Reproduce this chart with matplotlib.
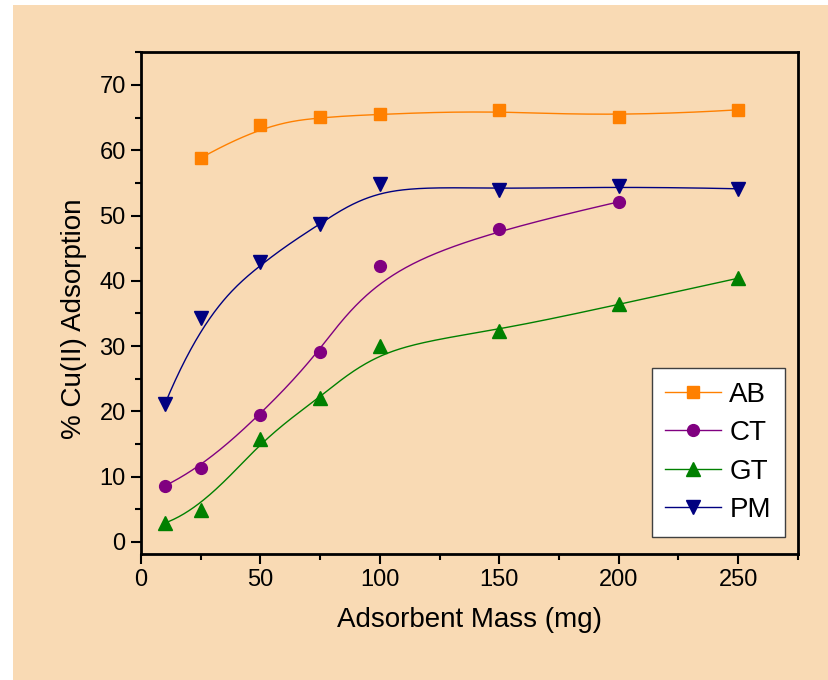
import numpy as np
import matplotlib.pyplot as plt
from matplotlib.patches import Rectangle
from matplotlib.ticker import MultipleLocator

plt.rcParams['font.family'] = ['Liberation Sans', 'DejaVu Sans']

# masa de adsorbente (mg) y % de adsorcion de Cu(II)
x_ab = [25, 50, 75, 100, 150, 200, 250]
y_ab = [58.8, 63.9, 65.1, 65.5, 66.2, 65.1, 66.2]

x_ct = [10, 25, 50, 75, 100, 150, 200]
y_ct = [8.6, 11.3, 19.4, 29.1, 42.3, 47.9, 52.1]

x_gt = [10, 25, 50, 75, 100, 150, 200, 250]
y_gt = [2.9, 4.9, 15.8, 22.0, 30.0, 32.3, 36.4, 40.4]

x_pm = [10, 25, 50, 75, 100, 150, 200, 250]
y_pm = [21.1, 34.3, 42.9, 48.7, 54.8, 53.9, 54.5, 54.1]

fondo = '#F9DAB4'


def bspline(x, y, n=300, k=3):
    # B-spline cubica con los datos como puntos de control
    P = np.column_stack([x, y])
    m = len(P)
    knots = np.concatenate([[0.0] * k, np.linspace(0, 1, m - k + 1), [1.0] * k])
    t = np.linspace(0, 1, n)
    N = np.zeros((n, len(knots) - 1))
    for i in range(len(knots) - 1):
        N[:, i] = (knots[i] <= t) & (t < knots[i + 1])
    N[-1, m - 1] = 1.0
    for d in range(1, k + 1):
        Nn = np.zeros((n, len(knots) - 1 - d))
        for i in range(len(knots) - 1 - d):
            a = knots[i + d] - knots[i]
            b = knots[i + d + 1] - knots[i + 1]
            izq = (t - knots[i]) / a * N[:, i] if a > 0 else 0
            der = (knots[i + d + 1] - t) / b * N[:, i + 1] if b > 0 else 0
            Nn[:, i] = izq + der
        N = Nn
    C = N[:, :m] @ P
    return C[:, 0], C[:, 1]


fig = plt.figure(figsize=(8.29, 6.8), dpi=100, facecolor='white')
fig.add_artist(Rectangle((13 / 829, 0), 1, 1 - 5 / 680, transform=fig.transFigure,
                         facecolor=fondo, edgecolor='none', zorder=-10))
ax = fig.add_axes([0.170, 0.1853, 0.7925, 0.7382])
ax.set_facecolor(fondo)

series = [
    ('AB', x_ab, y_ab, '#FF8000', 's', 8),
    ('CT', x_ct, y_ct, '#800080', 'o', 8.5),
    ('GT', x_gt, y_gt, '#008000', '^', 9.5),
    ('PM', x_pm, y_pm, '#000080', 'v', 9.5),
]
for nombre, xs, ys, c, mk, ms in series:
    sx, sy = bspline(xs, ys)
    ax.plot(sx, sy, '-', color=c, lw=1.0, zorder=2)
    ax.plot(xs, ys, linestyle='none', marker=mk, ms=ms, color=c, mec=c, zorder=3)
    ax.plot([], [], '-', color=c, lw=1.0, marker=mk, ms=ms, mec=c, label=nombre)

ax.set_xlim(0, 275)
ax.set_ylim(-1.84, 75.05)
ax.xaxis.set_major_locator(MultipleLocator(50))
ax.xaxis.set_minor_locator(MultipleLocator(25))
ax.yaxis.set_major_locator(MultipleLocator(10))
ax.yaxis.set_minor_locator(MultipleLocator(5))
ax.tick_params(which='major', direction='out', length=7, width=1.5, labelsize=17, pad=4)
ax.tick_params(which='minor', direction='out', length=4, width=1.5)
for s in ax.spines.values():
    s.set_linewidth(2)

ax.set_xlabel('Adsorbent Mass (mg)', fontsize=20, labelpad=11)
ax.set_ylabel('% Cu(II) Adsorption', fontsize=20)
ax.yaxis.set_label_coords(-0.082, 0.468)

leg = ax.legend(loc='lower right', bbox_to_anchor=(0.980, 0.034), borderaxespad=0,
                fontsize=20, frameon=True, fancybox=False, handlelength=2.0,
                handletextpad=0.3, labelspacing=0.45, borderpad=0.5)
leg.get_frame().set_edgecolor('#404040')
leg.get_frame().set_linewidth(1.0)
leg.get_frame().set_facecolor('white')
leg.get_frame().set_alpha(1)

fig.savefig('out.png', dpi=100, facecolor='white')
